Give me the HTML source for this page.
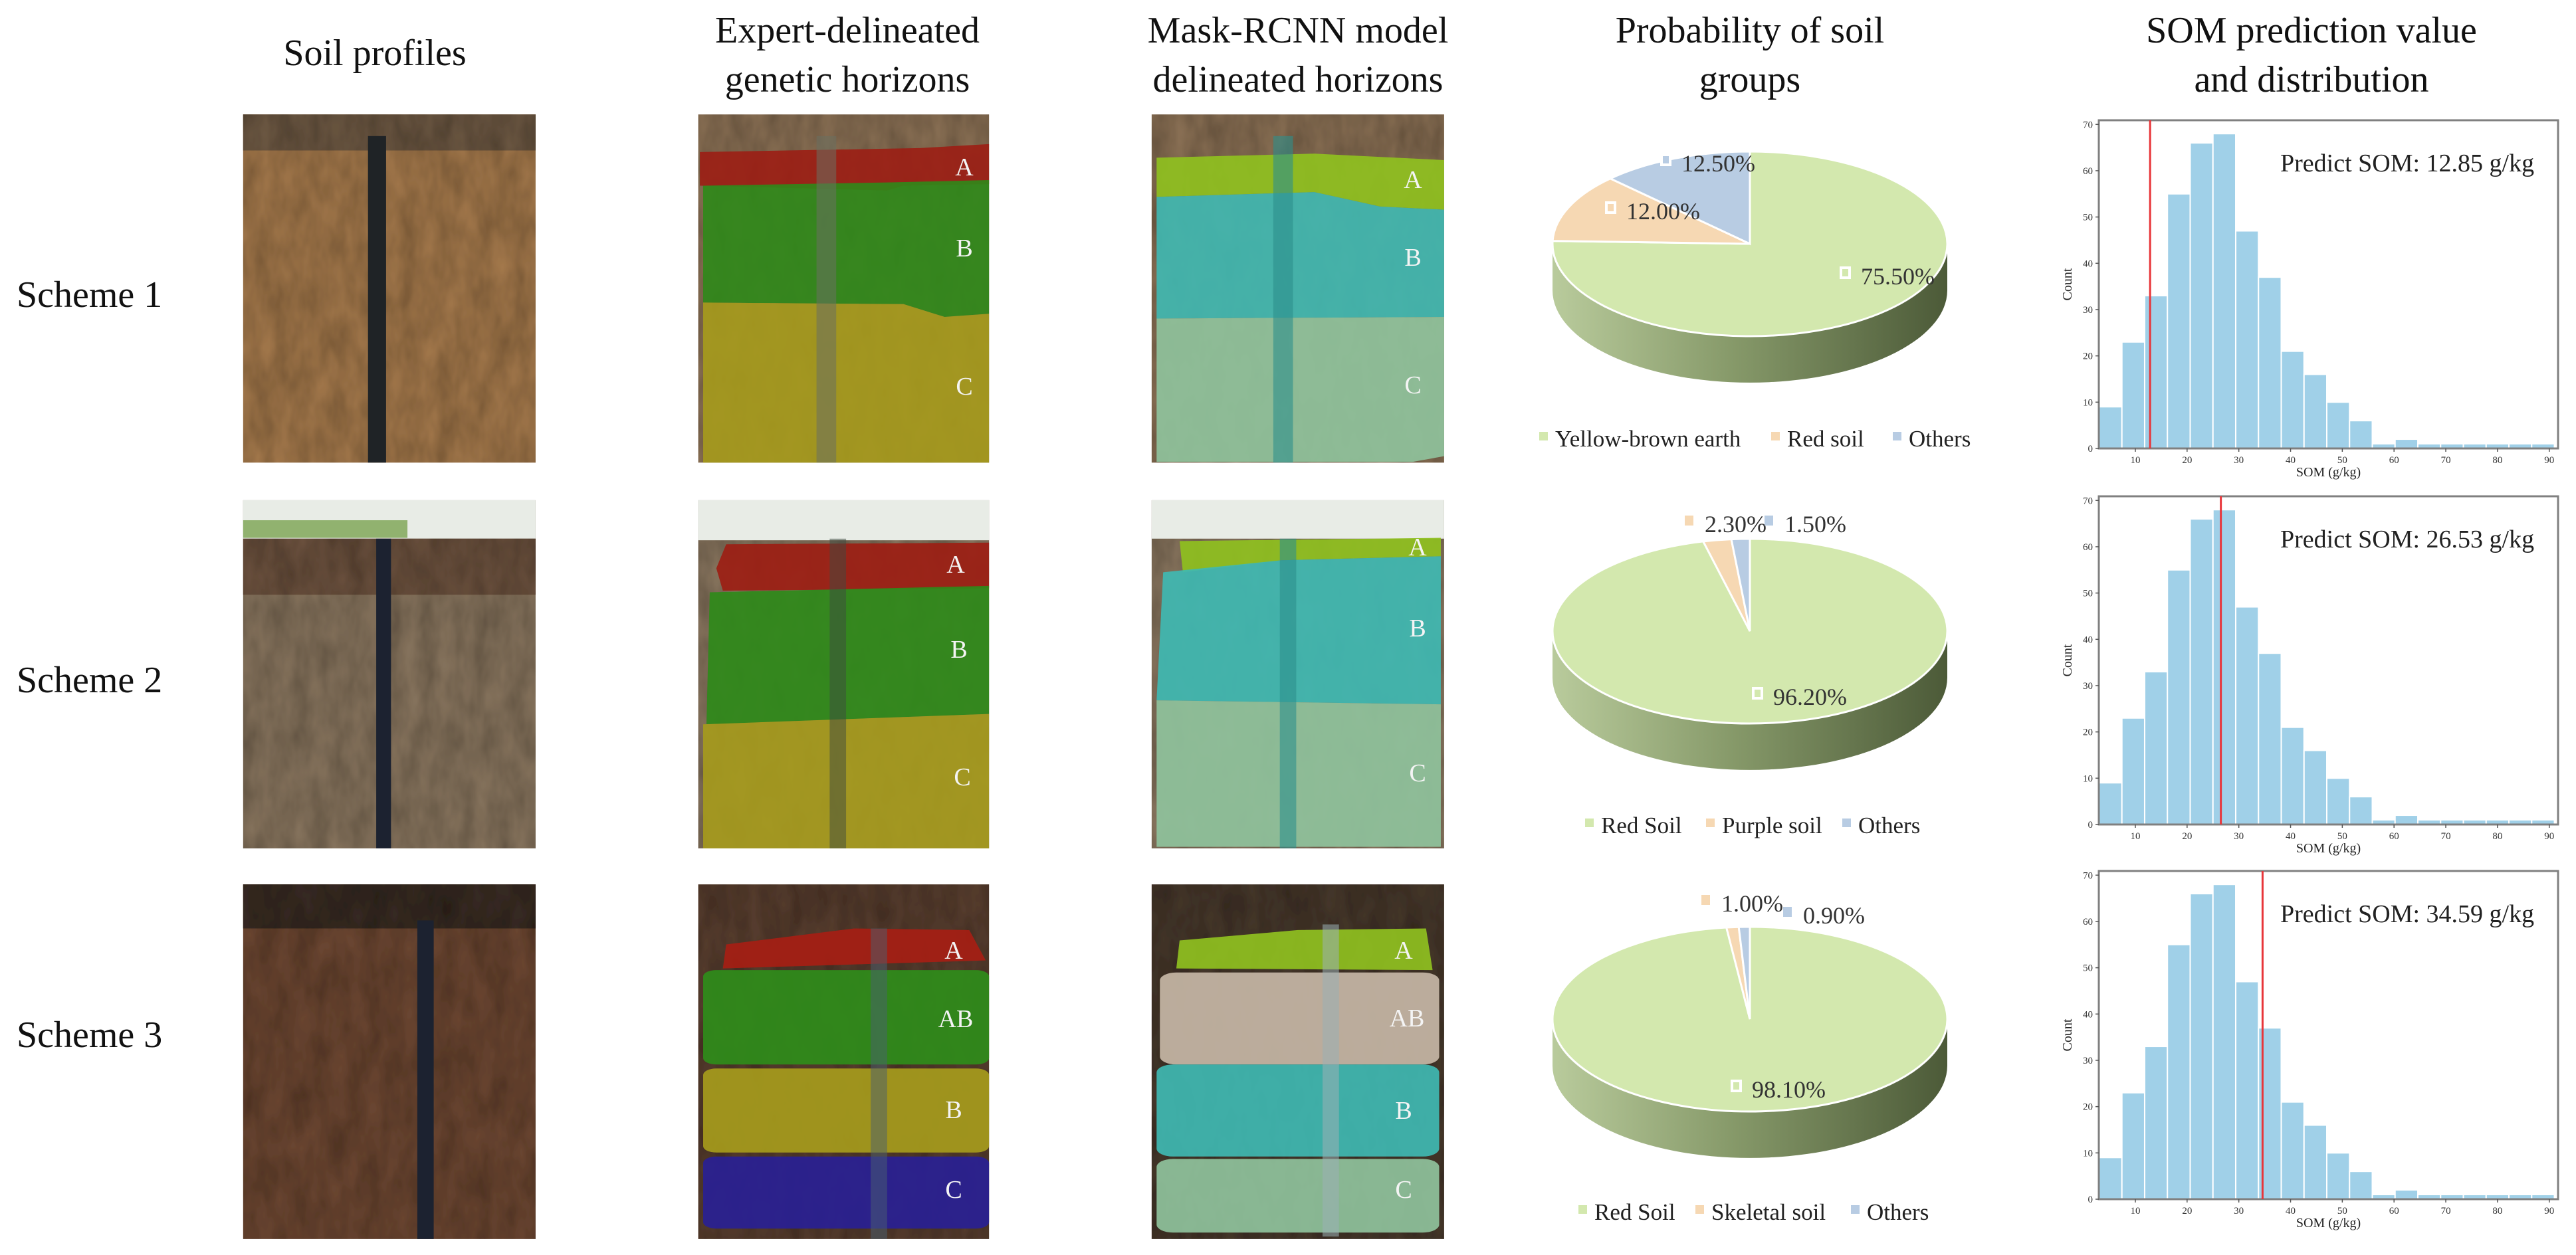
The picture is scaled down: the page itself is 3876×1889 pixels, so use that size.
<!DOCTYPE html>
<html><head><meta charset="utf-8">
<style>
html,body{margin:0;padding:0;background:#fff;}
svg{display:block;}
text{font-family:"Liberation Serif","Times New Roman",serif;}
</style></head>
<body>
<svg id="fig" width="3876" height="1889" viewBox="0 0 3876 1889" xmlns="http://www.w3.org/2000/svg">
<defs>
<filter id="soilTex" x="0" y="0" width="100%" height="100%">
<feTurbulence type="fractalNoise" baseFrequency="0.09 0.02" numOctaves="3" seed="4" result="n"/>
<feColorMatrix in="n" type="matrix" values="0 0 0 0 0  0 0 0 0 0  0 0 0 0 0  0 0 0 0.55 0" result="d"/>
<feComposite in="d" in2="SourceGraphic" operator="in" result="dd"/>
<feMerge><feMergeNode in="SourceGraphic"/><feMergeNode in="dd"/></feMerge>
</filter>
<linearGradient id="sideGrad" x1="0" x2="1" y1="0" y2="0">
<stop offset="0" stop-color="#b9cb9c"/><stop offset="0.45" stop-color="#879a6a"/><stop offset="1" stop-color="#4c5a38"/>
</linearGradient>
</defs>

<g font-size="56" text-anchor="middle" fill="#111">
<text x="564" y="98">Soil profiles</text>
<text x="1275" y="64">Expert-delineated<tspan x="1275" y="138">genetic horizons</tspan></text>
<text x="1953" y="64">Mask-RCNN model<tspan x="1953" y="138">delineated horizons</tspan></text>
<text x="2633" y="64">Probability of soil<tspan x="2633" y="138">groups</tspan></text>
<text x="3478" y="64">SOM prediction value<tspan x="3478" y="138">and distribution</tspan></text>
</g>

<g font-size="56" fill="#111">
<text x="25" y="462">Scheme 1</text>
<text x="25" y="1042">Scheme 2</text>
<text x="25" y="1576">Scheme 3</text>
</g>

<g transform="scale(2.472,1.2047)">
 <g>
  <rect x="148" y="143" width="178" height="435" fill="#a67a4e" filter="url(#soilTex)"/>
  <rect x="148" y="143" width="178" height="45" fill="#6e5a44" filter="url(#soilTex)"/>
  <rect x="224" y="170" width="11" height="408" fill="#1f2326"/>
 </g>
 <g>
  <rect x="425" y="143" width="177" height="435" fill="#8c7256" filter="url(#soilTex)"/>
  <path d="M426 190 L560 185 L602 180 L602 230 L550 232 L540 238 L426 232Z" fill="#9c1e14" opacity="0.9"/>
  <path d="M428 232 L540 228 L602 225 L602 392 L575 396 L550 380 L428 378Z" fill="#2f8a1a" opacity="0.9"/>
  <path d="M428 378 L550 380 L575 396 L602 392 L602 578 L428 578Z" fill="#a69b1c" opacity="0.9"/>
  <rect x="497" y="170" width="12" height="408" fill="#6a7060" opacity="0.55"/>
 </g>
 <g>
  <rect x="701" y="143" width="178" height="435" fill="#8c7256" filter="url(#soilTex)"/>
  <path d="M704 197 L800 192 L879 200 L879 262 L840 258 L800 240 L704 246Z" fill="#8fc020" opacity="0.92"/>
  <path d="M704 246 L800 240 L840 258 L879 262 L879 396 L704 398Z" fill="#3fb9b2" opacity="0.9"/>
  <path d="M704 398 L879 396 L879 570 L860 577 L704 577Z" fill="#8fc29c" opacity="0.92"/>
  <rect x="775" y="170" width="12" height="408" fill="#2d8f8c" opacity="0.6"/>
 </g>
 <g>
  <rect x="148" y="625" width="178" height="435" fill="#8a7761" filter="url(#soilTex)"/>
  <rect x="148" y="625" width="178" height="48" fill="#e8ece6"/>
  <rect x="148" y="650" width="100" height="22" fill="#6c9a3c" opacity="0.7"/>
  <rect x="148" y="673" width="178" height="70" fill="#6d5240" filter="url(#soilTex)"/>
  <rect x="229" y="673" width="9" height="387" fill="#1c2230"/>
 </g>
 <g>
  <rect x="425" y="625" width="177" height="435" fill="#8a7761" filter="url(#soilTex)"/>
  <rect x="425" y="625" width="177" height="50" fill="#e8ece6"/>
  <path d="M442 680 L602 678 L602 735 L440 738 L436 710Z" fill="#9c1e14" opacity="0.92"/>
  <path d="M432 740 L602 732 L602 892 L430 905Z" fill="#2f8a1a" opacity="0.92"/>
  <path d="M428 905 L602 892 L602 1060 L428 1060Z" fill="#a69b1c" opacity="0.9"/>
  <rect x="505" y="673" width="10" height="387" fill="#3e4a40" opacity="0.5"/>
 </g>
 <g>
  <rect x="701" y="625" width="178" height="435" fill="#8a7761" filter="url(#soilTex)"/>
  <rect x="701" y="625" width="178" height="48" fill="#e8ece6"/>
  <path d="M718 676 L877 672 L877 695 L780 700 L720 715Z" fill="#8fc020" opacity="0.92"/>
  <path d="M708 715 L780 700 L877 695 L877 880 L704 875Z" fill="#3fb9b2" opacity="0.92"/>
  <path d="M704 875 L877 880 L877 1058 L704 1058Z" fill="#8fc29c" opacity="0.92"/>
  <rect x="779" y="673" width="10" height="387" fill="#2d8f8c" opacity="0.6"/>
 </g>
 <g>
  <rect x="148" y="1105" width="178" height="443" fill="#6e4a34" filter="url(#soilTex)"/>
  <rect x="148" y="1105" width="178" height="55" fill="#3a2e26" filter="url(#soilTex)"/>
  <rect x="254" y="1150" width="10" height="398" fill="#1c2230"/>
 </g>
 <g>
  <rect x="425" y="1105" width="177" height="443" fill="#5a4030" filter="url(#soilTex)"/>
  <path d="M442 1180 L520 1160 L590 1162 L600 1200 L440 1210Z" fill="#a61e14" opacity="0.92"/>
  <rect x="428" y="1212" width="174" height="118" rx="8" fill="#2f8a1a" opacity="0.95"/>
  <rect x="428" y="1335" width="174" height="105" rx="8" fill="#a69b1c" opacity="0.92"/>
  <rect x="428" y="1445" width="174" height="90" rx="8" fill="#2a2190" opacity="0.95"/>
  <rect x="530" y="1160" width="10" height="388" fill="#4a6070" opacity="0.5"/>
 </g>
 <g>
  <rect x="701" y="1105" width="178" height="443" fill="#4a3a2e" filter="url(#soilTex)"/>
  <path d="M718 1175 L790 1162 L868 1160 L872 1212 L716 1210Z" fill="#8fc020" opacity="0.92"/>
  <rect x="706" y="1215" width="170" height="115" rx="10" fill="#c2b3a2" opacity="0.95"/>
  <rect x="704" y="1330" width="172" height="115" rx="10" fill="#3fb9b2" opacity="0.92"/>
  <rect x="704" y="1448" width="172" height="92" rx="10" fill="#8fc29c" opacity="0.92"/>
  <rect x="805" y="1155" width="10" height="390" fill="#9ab0b4" opacity="0.55"/>
 </g>
</g>

<g font-size="38" fill="#f4f4f4" text-anchor="middle" style="font-family:'Liberation Sans',sans-serif">
<text x="1451" y="264">A</text><text x="1451" y="386">B</text><text x="1451" y="594">C</text>
<text x="2126" y="283">A</text><text x="2126" y="400">B</text><text x="2126" y="592">C</text>
<text x="1438" y="862">A</text><text x="1443" y="990">B</text><text x="1448" y="1182">C</text>
<text x="2133" y="836">A</text><text x="2133" y="958">B</text><text x="2133" y="1176">C</text>
<text x="1435" y="1443">A</text><text x="1438" y="1546">AB</text><text x="1435" y="1683">B</text><text x="1435" y="1803">C</text>
<text x="2112" y="1443">A</text><text x="2117" y="1545">AB</text><text x="2112" y="1684">B</text><text x="2112" y="1803">C</text>
</g>

<g id="pies"></g>
<g id="hists"></g>
</svg>

<script>
const pieNames1 = ["Yellow-brown earth","Red soil","Others"];
const pieValues1 = [75.5, 12.0, 12.5];
const pieNames2 = ["Red Soil","Purple soil","Others"];
const pieValues2 = [96.2, 2.3, 1.5];
const pieNames3 = ["Red Soil","Skeletal soil","Others"];
const pieValues3 = [98.1, 1.0, 0.9];

const binStart = 3.0;
const binWidth = 4.4;
const histCounts = [9,23,33,55,66,68,47,37,21,16,10,6,1,2,1,1,1,1,1,1];
const predictedSOM = [12.85, 26.53, 34.59];
const xTicks = [10,20,30,40,50,60,70,80,90];
const yTicks = [0,10,20,30,40,50,60,70];

const NS = "http://www.w3.org/2000/svg";
function mk(tag, attrs, parent){
  const e = document.createElementNS(NS, tag);
  for (const k in attrs) e.setAttribute(k, attrs[k]);
  if (parent) parent.appendChild(e);
  return e;
}
const sliceColors = ["#d3e8ae","#f6d8b3","#b8cce3"];

const pieLayouts = [
  {cx:2633, cy:367, rx:297, ry:139, d:70, legY:672, legX:[2316,2665,2848],
   lab:[[2800,428],[2447,330],[2530,258]], names:pieNames1, values:pieValues1},
  {cx:2633, cy:950, rx:297, ry:139, d:70, legY:1254, legX:[2385,2567,2772],
   lab:[[2668,1061],[2565,801],[2685,801]], names:pieNames2, values:pieValues2},
  {cx:2633, cy:1534, rx:297, ry:139, d:70, legY:1836, legX:[2375,2551,2785],
   lab:[[2636,1652],[2590,1372],[2713,1390]], names:pieNames3, values:pieValues3}
];
const pies = document.getElementById('pies');
pieLayouts.forEach((p, pi) => {
  const g = mk('g', {}, pies);
  
  
  const side = mk('path', {d:`M${p.cx-p.rx} ${p.cy} L${p.cx-p.rx} ${p.cy+p.d} A${p.rx} ${p.ry} 0 0 0 ${p.cx+p.rx} ${p.cy+p.d} L${p.cx+p.rx} ${p.cy} A${p.rx} ${p.ry} 0 0 1 ${p.cx-p.rx} ${p.cy}Z`, fill:'url(#sideGrad)'}, g);
  
  
  const total = p.values.reduce((a,b)=>a+b,0);
  let a0 = 0;
  p.values.forEach((v, i) => {
    const a1 = a0 + v/total*2*Math.PI;
    const x0 = p.cx + p.rx*Math.sin(a0), y0 = p.cy - p.ry*Math.cos(a0);
    const x1 = p.cx + p.rx*Math.sin(a1), y1 = p.cy - p.ry*Math.cos(a1);
    const large = (a1-a0) > Math.PI ? 1 : 0;
    const s = mk('path', {d:`M${p.cx} ${p.cy} L${x0} ${y0} A${p.rx} ${p.ry} 0 ${large} 1 ${x1} ${y1}Z`, fill:sliceColors[i], stroke:'#fff', 'stroke-width':3}, g);
    
    
    a0 = a1;
  });
  p.values.forEach((v, i) => {
    const [lx, ly] = p.lab[i];
    const big = (v > 50);
    const m = mk('rect', {x:lx-30, y:ly-25, width:13, height:15, fill:sliceColors[i], stroke: big||pi===0 ? '#fff':'none', 'stroke-width':4}, g);
    
    
    const t = mk('text', {x:lx, y:ly, 'font-size':36, fill:'#333'}, g);
    t.textContent = v.toFixed(2) + '%';
    
    
  });
  p.names.forEach((n, i) => {
    const lx = p.legX[i];
    const m = mk('rect', {x:lx, y:p.legY-22, width:13, height:13, fill:sliceColors[i]}, g);
    
    
    const t = mk('text', {x:lx+24, y:p.legY, 'font-size':35, fill:'#222'}, g);
    t.textContent = n;
    
    
  });
});

const hists = document.getElementById('hists');
const hx0 = 3158, hx1 = 3849, hH = 494;
const tops = [181, 747, 1311];
const xMin = 2.94, xMax = 91.7, yMax = 70.9;
function sx(v){ return hx0 + (v - xMin)/(xMax - xMin)*(hx1 - hx0); }
tops.forEach((top, hi) => {
  const bot = top + hH;
  function sy(v){ return bot - v/yMax*hH; }
  const g = mk('g', {}, hists);
  
  
  histCounts.forEach((c, i) => {
    const a = binStart + i*binWidth, b = a + binWidth;
    const r = mk('rect', {x:sx(a), y:sy(c), width:sx(b)-sx(a), height:bot-sy(c), fill:'#a0d0e8', stroke:'#fff', 'stroke-width':2}, g);
    
    
  });
  const fr = mk('rect', {x:hx0, y:top, width:hx1-hx0, height:hH, fill:'none', stroke:'#808080', 'stroke-width':3}, g);
  
  
  const ln = mk('line', {x1:sx(predictedSOM[hi]), x2:sx(predictedSOM[hi]), y1:top, y2:bot, stroke:'#e8363a', 'stroke-width':3}, g);
  
  
  xTicks.forEach(v => {
    mk('line', {x1:sx(v), x2:sx(v), y1:bot, y2:bot+5, stroke:'#555', 'stroke-width':1.5}, g);
    const t = mk('text', {x:sx(v), y:bot+22, 'font-size':15, 'text-anchor':'middle', fill:'#333'}, g);
    t.textContent = v;
    
    
  });
  yTicks.forEach(v => {
    mk('line', {x1:hx0-5, x2:hx0, y1:sy(v), y2:sy(v), stroke:'#555', 'stroke-width':1.5}, g);
    const t = mk('text', {x:hx0-9, y:sy(v)+5, 'font-size':15, 'text-anchor':'end', fill:'#333'}, g);
    t.textContent = v;
    
    
  });
  const xt = mk('text', {x:(hx0+hx1)/2, y:bot+42, 'font-size':20, 'text-anchor':'middle', fill:'#222'}, g);
  xt.textContent = 'SOM (g/kg)';
  
  
  const yt = mk('text', {x:0, y:0, 'font-size':20, 'text-anchor':'middle', fill:'#222', transform:`translate(3117,${top+hH/2}) rotate(-90)`}, g);
  yt.textContent = 'Count';
  
  
  const pt = mk('text', {x:3431, y:top+77, 'font-size':38, fill:'#222'}, g);
  pt.textContent = 'Predict SOM: ' + predictedSOM[hi].toFixed(2) + ' g/kg';
  
  
});
</script>
</body></html>
